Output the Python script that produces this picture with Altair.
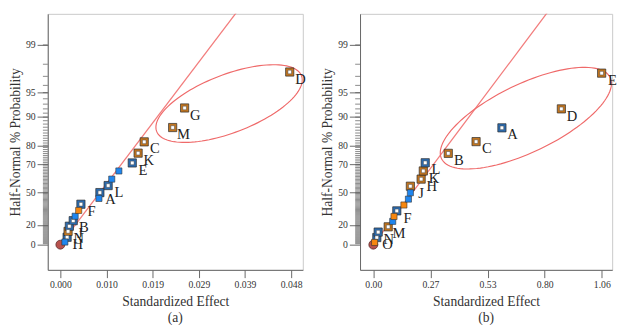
import altair as alt
import pandas as pd
import numpy as np
from statistics import NormalDist

ND = NormalDist()


def hn(p):
    """half-normal probability scale: percent -> quantile"""
    return ND.inv_cdf(0.5 + p / 200.0)


# ---------------- data: panel (a) ----------------
a_effect = [0.00094, 0.00141, 0.00161, 0.00188, 0.00269, 0.00309, 0.00383, 0.0043, 0.00807,
            0.00827, 0.0100, 0.01075, 0.01224, 0.01505, 0.01627, 0.01755, 0.0235, 0.0260, 0.0480]
a_prob = [2.7, 7.6, 13.6, 18.8, 24.3, 28.6, 34.1, 39.8, 44.9, 49.8,
          55.4, 60.2, 65.8, 70.8, 76.2, 81.5, 86.9, 92.2, 97.4]
a_kind = ["neg_err", "neg", "pos", "neg", "neg", "neg_err", "pos_err", "neg", "neg_err", "neg",
          "neg", "neg_err", "neg_err", "neg", "pos", "pos", "pos", "pos", "pos"]
a_label = ["", "H", "N", "J", "B", "", "", "F", "", "A", "L", "", "", "E", "K", "C", "M", "G", "D"]
a_line_x = [0.0, 0.0405]
a_line_p = [0.0, 99.9]
a_xticks = [0.0, 0.00966, 0.01932, 0.02898, 0.03864, 0.0483]
a_xdom = [-0.00264, 0.05074]
a_ellipse = dict(cx=0.03531, cz=1.819, ux=0.01516, uz=0.3585, vx=0.00218, vz=-0.3502)

# ---------------- data: panel (b) ----------------
b_effect = [0.006, 0.0162, 0.0225, 0.069, 0.090, 0.096, 0.109, 0.142, 0.163, 0.172,
            0.172, 0.222, 0.232, 0.241, 0.348, 0.477, 0.597, 0.873, 1.060]
b_prob = [2.3, 7.3, 12.9, 18.2, 23.6, 28.4, 33.7, 39.1, 44.3, 49.7,
          54.9, 60.2, 65.8, 70.9, 76.1, 81.6, 86.8, 92.0, 97.3]
b_kind = ["pos_err", "neg", "neg", "pos", "neg_err", "pos_err", "neg", "pos_err", "neg_err", "neg_err",
          "pos", "pos", "pos", "neg", "pos", "pos", "neg", "pos", "pos"]
b_label = ["", "O", "N", "M", "", "", "F", "", "", "", "J", "H", "K", "L", "B", "C", "A", "D", "E"]
b_line_x = [0.0, 0.888]
b_line_p = [0.0, 99.9]
b_xticks = [0.0, 0.2652, 0.5304, 0.7956, 1.0608]
b_xdom = [-0.0617, 1.1089]
b_ellipse = dict(cx=0.7082, cz=1.631, ux=0.3915, uz=0.5233, vx=0.06835, vz=-0.3943)

# y axis ticks (percent)
y_major = [0, 20, 50, 70, 80, 90, 95, 99]
y_minor = list(range(1, 100))
Y_DOM = [-0.325, 2.976]

FONT = "Liberation Serif, Times New Roman, DejaVu Serif, serif"
KIND_DOMAIN = ["pos", "neg", "pos_err", "neg_err"]
KIND_RANGE = ["#c2751f", "#2c6cb0", "#f7870f", "#1f86ef"]

label_expr = " : ".join(
    f"abs(datum.value - {hn(p):.6f}) < 0.0005 ? '{p}'" for p in y_major) + " : ''"


def panel(effect, prob, kind, label, line_x, line_p, ell, xdom, xticks, xfmt, width, caption):
    df = pd.DataFrame({"effect": effect, "prob": prob, "kind": kind, "label": label})
    df["z"] = [hn(p) for p in prob]
    hollow = df[df["kind"].isin(["pos", "neg"])]
    filled = df[df["kind"].isin(["pos_err", "neg_err"])]
    labels = df[df["label"] != ""]

    line_df = pd.DataFrame({"effect": line_x, "z": [hn(p) for p in line_p]})
    t = np.linspace(0, 2 * np.pi, 121)
    ell_df = pd.DataFrame({
        "effect": ell["cx"] + ell["ux"] * np.cos(t) + ell["vx"] * np.sin(t),
        "z": ell["cz"] + ell["uz"] * np.cos(t) + ell["vz"] * np.sin(t),
        "o": np.arange(len(t)),
    })
    origin_df = pd.DataFrame({"effect": [0.0], "z": [hn(0.0)]})
    minor_df = pd.DataFrame({"z": [hn(p) for p in y_minor]})

    xs = alt.Scale(domain=xdom, nice=False, zero=False)
    ys = alt.Scale(domain=Y_DOM, nice=False, zero=False)
    common = dict(labelFont=FONT, titleFont=FONT, labelFontSize=10, titleFontSize=14,
                  titleFontWeight="normal", labelColor="#333", titleColor="#333",
                  domainColor="#666", tickColor="#666", grid=False)
    xax = alt.Axis(values=xticks, format=xfmt, title="Standardized Effect",
                   tickSize=8, labelPadding=2, titlePadding=6, **common)
    yax = alt.Axis(values=[hn(p) for p in y_major], labelExpr=label_expr,
                   title="Half-Normal % Probability", tickSize=11, labelPadding=2,
                   titlePadding=3, **common)
    X = alt.X("effect:Q", scale=xs, axis=xax)
    Y = alt.Y("z:Q", scale=ys, axis=yax)
    fill = alt.Fill("kind:N", scale=alt.Scale(domain=KIND_DOMAIN, range=KIND_RANGE), legend=None)

    minor = alt.Chart(minor_df).mark_rule(color="#555", strokeWidth=0.7).encode(
        y=Y, x=alt.value(-5), x2=alt.value(0))
    fit = alt.Chart(line_df).mark_line(color="#f27c7c", strokeWidth=1.3, clip=True).encode(x=X, y=Y)
    ellipse = alt.Chart(ell_df).mark_line(color="#ef6a6a", strokeWidth=1.2, clip=True).encode(
        x=X, y=Y, order="o:Q")
    outer = alt.Chart(hollow).mark_square(size=72, stroke="#2a2a2a", strokeWidth=0.7, opacity=1).encode(
        x=X, y=Y, fill=fill)
    inner = alt.Chart(hollow).mark_square(size=14, fill="white", stroke="#444", strokeWidth=0.5,
                                          opacity=1).encode(x=X, y=Y)
    solid = alt.Chart(filled).mark_square(size=40, stroke="#333", strokeWidth=0.6, opacity=1).encode(
        x=X, y=Y, fill=fill)
    origin = alt.Chart(origin_df).mark_circle(size=85, fill="#b8524e", stroke="#5a2a2a",
                                              strokeWidth=0.8, opacity=1).encode(x=X, y=Y)
    text = alt.Chart(labels).mark_text(align="center", baseline="middle", dx=11, dy=7, font=FONT,
                                       fontSize=15, color="#222").encode(x=X, y=Y, text="label:N")

    return alt.layer(minor, fit, ellipse, origin, outer, inner, solid, text).properties(
        width=width, height=264,
        title=alt.TitleParams(text=caption, orient="bottom", anchor="middle", frame="group",
                              font=FONT, fontSize=14, fontWeight="normal", color="#333", offset=3),
    )


pa = panel(a_effect, a_prob, a_kind, a_label, a_line_x, a_line_p, a_ellipse,
           a_xdom, a_xticks, ".3f", 263, "(a)")
pb = panel(b_effect, b_prob, b_kind, b_label, b_line_x, b_line_p, b_ellipse,
           b_xdom, b_xticks, ".2f", 260, "(b)")

chart = alt.hconcat(pa, pb, spacing=14).properties(
    padding={"left": 0, "top": 0, "right": 0, "bottom": 0}
).configure(font=FONT).configure_view(stroke="#c8c8c8", strokeWidth=1).configure_axis(
    grid=False, domainColor="#666", tickColor="#666", labelFont=FONT, labelFontSize=10,
    labelColor="#333", titleFont=FONT, titleFontSize=14, titleFontWeight="normal", titleColor="#333"
)

chart.save("out.html", embed_options={"renderer": "svg", "actions": False})
